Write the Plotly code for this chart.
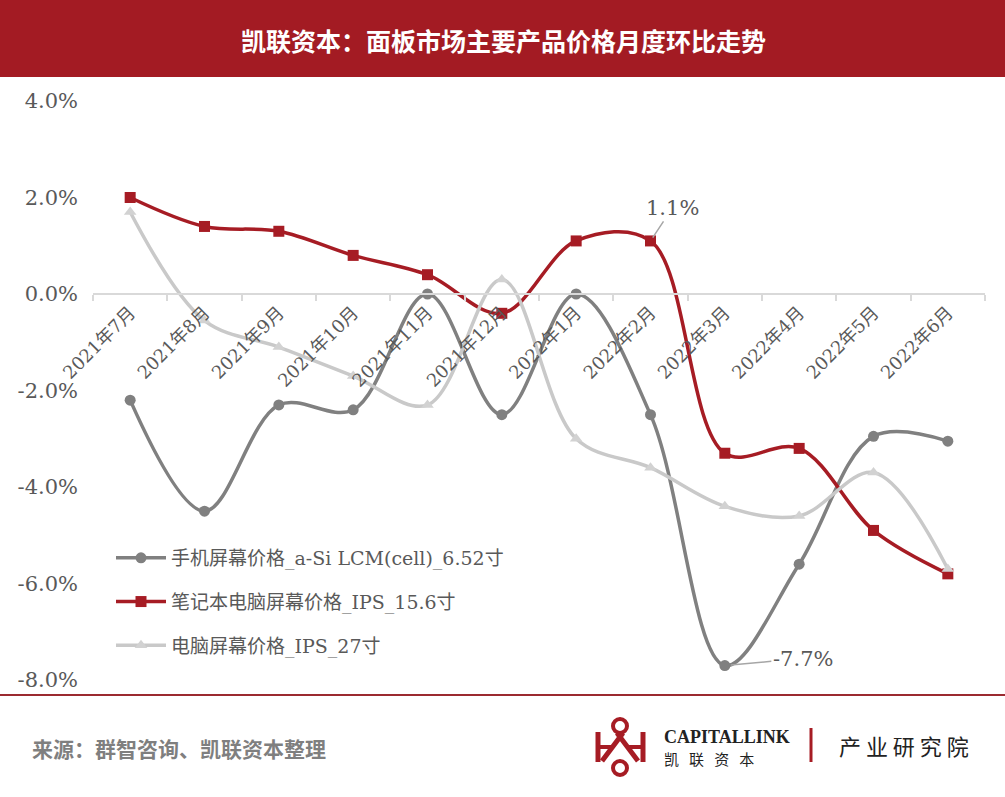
import plotly.graph_objects as go

months = ["2021年7月", "2021年8月", "2021年9月", "2021年10月", "2021年11月", "2021年12月",
          "2022年1月", "2022年2月", "2022年3月", "2022年4月", "2022年5月", "2022年6月"]
phone = [-2.2, -4.5, -2.3, -2.4, 0.0, -2.5, 0.0, -2.5, -7.7, -5.6, -2.95, -3.05]
laptop = [2.0, 1.4, 1.3, 0.8, 0.4, -0.4, 1.1, 1.1, -3.3, -3.2, -4.9, -5.8]
monitor = [1.7, -0.55, -1.1, -1.7, -2.3, 0.3, -3.0, -3.6, -4.4, -4.6, -3.7, -5.7]
names = ["手机屏幕价格_a-Si LCM(cell)_6.52寸", "笔记本电脑屏幕价格_IPS_15.6寸", "电脑屏幕价格_IPS_27寸"]
yticks = [4, 2, 0, -2, -4, -6, -8]

W, H = 1005, 797
L, R, T, B = 93, 20, 101, 117
PH = H - T - B
PW = W - L - R


def px(x):
    return (x - L) / PW


def py(y):
    return (H - B - y) / PH


SER = "DejaVu Serif, Noto Sans CJK SC, serif"
CJK = "Noto Sans CJK SC, sans-serif"
RED = "#A61C24"

fig = go.Figure()
fig.add_trace(go.Scatter(x=months, y=phone, name=names[0], mode="lines+markers",
                         line=dict(color="#808080", width=3.5, shape="spline", smoothing=1.0),
                         marker=dict(symbol="circle", size=11, color="#808080"), legendgroup="a"))
fig.add_trace(go.Scatter(x=months, y=laptop, name=names[1], mode="lines+markers",
                         line=dict(color=RED, width=3.5, shape="spline", smoothing=1.0),
                         marker=dict(symbol="square", size=11, color=RED), legendgroup="b"))
fig.add_trace(go.Scatter(x=months, y=monitor, name=names[2], mode="lines+markers",
                         line=dict(color="#C9C9C9", width=3.5, shape="spline", smoothing=1.0),
                         marker=dict(symbol="triangle-up", size=11, color="#D2D2D2"), legendgroup="c"))

shapes = [
    dict(type="rect", xref="paper", yref="paper", x0=px(0), x1=px(W), y0=py(77), y1=py(0),
         fillcolor="#A31B23", line=dict(width=0), layer="below"),
    dict(type="line", xref="paper", yref="paper", x0=px(0), x1=px(W), y0=py(695), y1=py(695),
         line=dict(color="#9B2A30", width=2)),
    dict(type="line", xref="paper", yref="paper", x0=px(811), x1=px(811), y0=py(728), y1=py(762),
         line=dict(color=RED, width=3)),
    # logo symbol approximation
    dict(type="circle", xref="paper", yref="paper", x0=px(613), x1=px(627), y0=py(733), y1=py(719),
         line=dict(color=RED, width=4)),
    dict(type="circle", xref="paper", yref="paper", x0=px(613), x1=px(627), y0=py(775), y1=py(761),
         line=dict(color=RED, width=4)),
    dict(type="line", xref="paper", yref="paper", x0=px(598), x1=px(598), y0=py(732), y1=py(762),
         line=dict(color=RED, width=5)),
    dict(type="line", xref="paper", yref="paper", x0=px(643), x1=px(643), y0=py(732), y1=py(762),
         line=dict(color=RED, width=5)),
    dict(type="line", xref="paper", yref="paper", x0=px(617), x1=px(638), y0=py(733), y1=py(761),
         line=dict(color=RED, width=5)),
    dict(type="line", xref="paper", yref="paper", x0=px(623), x1=px(602), y0=py(733), y1=py(761),
         line=dict(color=RED, width=5)),
    dict(type="line", xref="paper", yref="paper", x0=px(598), x1=px(612), y0=py(747), y1=py(747),
         line=dict(color=RED, width=4)),
    dict(type="line", xref="paper", yref="paper", x0=px(629), x1=px(643), y0=py(747), y1=py(747),
         line=dict(color=RED, width=4)),
]

annotations = [
    dict(xref="paper", yref="paper", x=px(503), y=py(40), text="<b>凯联资本：面板市场主要产品价格月度环比走势</b>",
         showarrow=False, font=dict(family=CJK, size=25, color="white"), xanchor="center", yanchor="middle"),
    dict(xref="paper", yref="paper", x=px(30), y=py(748), text="<b>来源：群智咨询、凯联资本整理</b>",
         showarrow=False, font=dict(family=CJK, size=21, color="#7F7F7F"), xanchor="left", yanchor="middle"),
    dict(xref="paper", yref="paper", x=px(662), y=py(737), text="<b>CAPITALLINK</b>",
         showarrow=False, font=dict(family="Liberation Serif, serif", size=18, color="#222222"),
         xanchor="left", yanchor="middle"),
    dict(xref="paper", yref="paper", x=px(662), y=py(758), text="凯   联   资   本",
         showarrow=False, font=dict(family=CJK, size=15, color="#222222"), xanchor="left", yanchor="middle"),
    dict(xref="paper", yref="paper", x=px(837), y=py(745), text="产 业 研 究 院",
         showarrow=False, font=dict(family=CJK, size=22, color="#222222"), xanchor="left", yanchor="middle"),
    dict(x=months[7], y=laptop[7], text="1.1%", showarrow=True, arrowhead=0, arrowcolor="#A6A6A6",
         arrowwidth=1.5, ax=22, ay=-33, standoff=4, font=dict(family=SER, size=21, color="#595959")),
    dict(x=months[8], y=phone[8], text="-7.7%", showarrow=True, arrowhead=0, arrowcolor="#A6A6A6",
         arrowwidth=1.5, ax=78, ay=-7, standoff=6, font=dict(family=SER, size=21, color="#595959")),
]

fig.update_layout(
    width=W, height=H, margin=dict(l=L, r=R, t=T, b=B),
    paper_bgcolor="white", plot_bgcolor="white",
    shapes=shapes, annotations=annotations,
    showlegend=True,
    legend=dict(x=px(111), y=py(539), xanchor="left", yanchor="top", bgcolor="rgba(0,0,0,0)",
                font=dict(family=SER, size=19, color="#595959"), tracegroupgap=16, itemwidth=50),
    xaxis=dict(type="category", anchor="free", position=8 / 12, showline=True, linecolor="#D9D9D9",
               linewidth=2, ticks="outside", tickson="boundaries", tickcolor="#D9D9D9", ticklen=6,
               tickwidth=2, tickangle=-45, showgrid=False, zeroline=False,
               tickfont=dict(family=SER, size=18, color="#595959"), range=[-0.5, 11.5]),
    yaxis=dict(range=[-8, 4], tickvals=yticks, ticktext=[f"{v:.1f}%" for v in yticks], showgrid=False,
               zeroline=False, showline=False, ticks="", ticklabelstandoff=14,
               tickfont=dict(family=SER, size=21, color="#595959")),
)

fig.write_html("out.html", config={"displayModeBar": False},
               post_script="document.body.style.margin='0';document.body.style.overflow='hidden';")
